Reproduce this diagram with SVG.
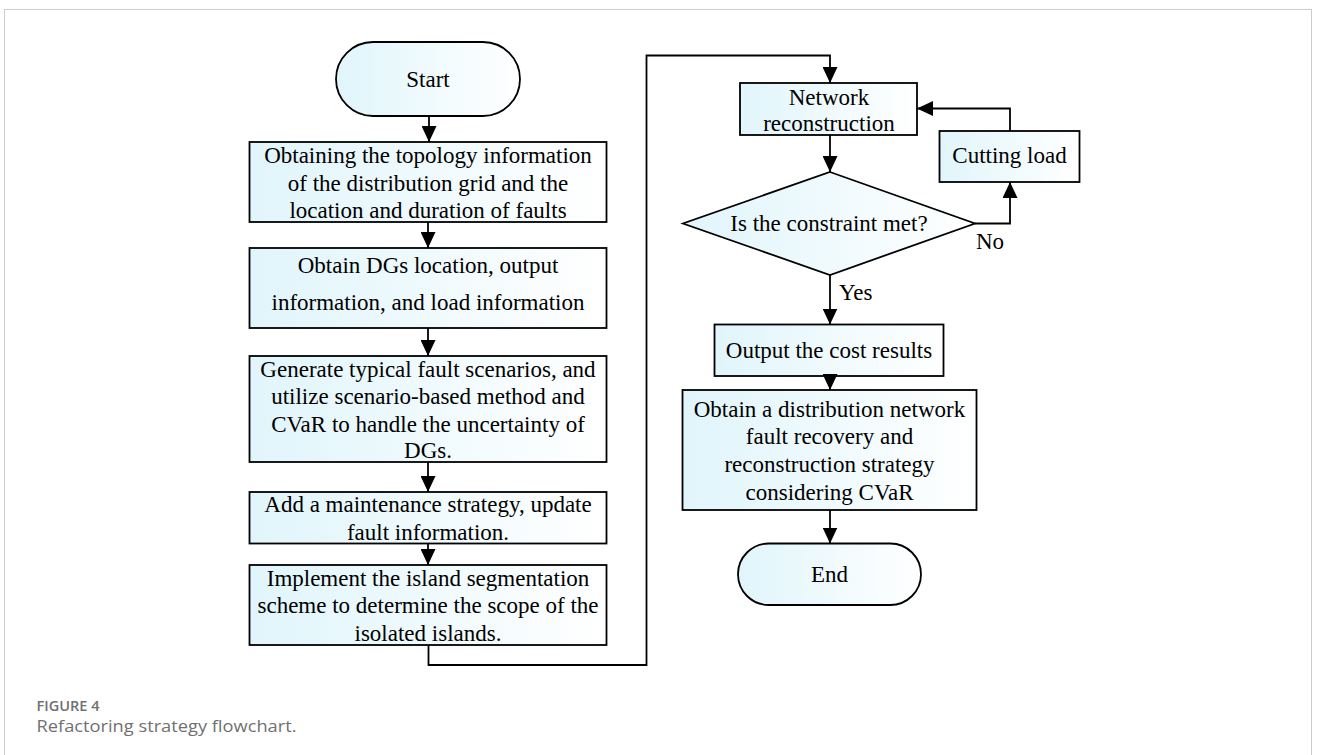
<svg xmlns="http://www.w3.org/2000/svg" width="1328" height="755" viewBox="0 0 1328 755">
<defs>
<linearGradient id="fillg" x1="0" y1="0" x2="1" y2="0">
<stop offset="0" stop-color="#e0f5fb"/>
<stop offset="1" stop-color="#ffffff"/>
</linearGradient>
<marker id="ah" viewBox="0 0 16 15" refX="16" refY="7.5" markerWidth="16" markerHeight="15" markerUnits="userSpaceOnUse" orient="auto">
<path d="M0,0 L16,7.5 L0,15 z" fill="#000"/>
</marker>
</defs>
<style>
.n{fill:url(#fillg);stroke:#000;stroke-width:1.8}
.t{font-family:"Liberation Serif","Times New Roman",serif;font-size:23px;fill:#000;text-anchor:middle}
.l{font-family:"Liberation Serif","Times New Roman",serif;font-size:23px;fill:#000}
.c{fill:none;stroke:#000;stroke-width:1.8}
.cap1{font-family:"Open Sans",Lato,sans-serif;font-size:14px;font-weight:600;fill:#707070}
.cap2{font-family:"Open Sans",Lato,sans-serif;font-size:17px;fill:#707070}
</style>
<rect x="4.5" y="9.5" width="1307" height="760" fill="#fff" stroke="#cccccc" stroke-width="1"/>

<g id="start">
<rect class="n" x="336" y="42" width="184" height="74" rx="37" ry="37"/>
<text class="t" x="428" y="87">Start</text>
</g>
<g id="box1">
<rect class="n" x="249.5" y="142" width="357" height="80"/>
<text class="t" x="428" y="163">Obtaining the topology information</text>
<text class="t" x="428" y="190.5">of the distribution grid and the</text>
<text class="t" x="428" y="218">location and duration of faults</text>
</g>
<g id="box2">
<rect class="n" x="249.5" y="248" width="357" height="80"/>
<text class="t" x="428" y="273">Obtain DGs location, output</text>
<text class="t" x="428" y="309.5">information, and load information</text>
</g>
<g id="box3">
<rect class="n" x="249.5" y="356" width="357" height="106"/>
<text class="t" x="428" y="376.5">Generate typical fault scenarios, and</text>
<text class="t" x="428" y="404">utilize scenario-based method and</text>
<text class="t" x="428" y="431.5">CVaR to handle the uncertainty of</text>
<text class="t" x="428" y="458">DGs.</text>
</g>
<g id="box4">
<rect class="n" x="249.5" y="492" width="357" height="51.5"/>
<text class="t" x="428" y="512">Add a maintenance strategy, update</text>
<text class="t" x="428" y="539.5">fault information.</text>
</g>
<g id="box5">
<rect class="n" x="249.5" y="565" width="357" height="80"/>
<text class="t" x="428" y="585.5">Implement the island segmentation</text>
<text class="t" x="428" y="613">scheme to determine the scope of the</text>
<text class="t" x="428" y="640.5">isolated islands.</text>
</g>
<g id="netrec">
<rect class="n" x="740" y="83" width="177" height="52"/>
<text class="t" x="829" y="104.5">Network</text>
<text class="t" x="829" y="131">reconstruction</text>
</g>
<g id="decision">
<polygon class="n" points="830,172 975,223.5 830,275 683,223.5"/>
<text class="t" x="829" y="231">Is the constraint met?</text>
</g>
<g id="cutload">
<rect class="n" x="939.5" y="131" width="140" height="51"/>
<text class="t" x="1009.5" y="163">Cutting load</text>
</g>
<g id="output">
<rect class="n" x="714.5" y="324.5" width="229" height="51.5"/>
<text class="t" x="829" y="358">Output the cost results</text>
</g>
<g id="obtain">
<rect class="n" x="682.5" y="390" width="294" height="120"/>
<text class="t" x="829.5" y="416.5">Obtain a distribution network</text>
<text class="t" x="829.5" y="444">fault recovery and</text>
<text class="t" x="829.5" y="472">reconstruction strategy</text>
<text class="t" x="829.5" y="499.5">considering CVaR</text>
</g>
<g id="end">
<rect class="n" x="738" y="543.5" width="183" height="61.5" rx="30.75" ry="30.75"/>
<text class="t" x="829.5" y="581.5">End</text>
</g>

<g id="connectors">
<path class="c" d="M429,116 V142" marker-end="url(#ah)"/>
<path class="c" d="M428,222 V248" marker-end="url(#ah)"/>
<path class="c" d="M428,328 V356" marker-end="url(#ah)"/>
<path class="c" d="M428,462 V492" marker-end="url(#ah)"/>
<path class="c" d="M428,543.5 V565" marker-end="url(#ah)"/>
<path class="c" d="M428.5,645 V665 H646.5 V55.5 H830 V83" marker-end="url(#ah)"/>
<path class="c" d="M830,135 V172" marker-end="url(#ah)"/>
<path class="c" d="M975,223.5 H1010 V182" marker-end="url(#ah)"/>
<path class="c" d="M1010,131 V108.5 H917" marker-end="url(#ah)"/>
<path class="c" d="M830,275 V324.5" marker-end="url(#ah)"/>
<path class="c" d="M830,376 V390" marker-end="url(#ah)"/>
<path class="c" d="M830,510 V543.5" marker-end="url(#ah)"/>
<text class="l" x="976" y="249">No</text>
<text class="l" x="839" y="299.5">Yes</text>
</g>

<text class="cap1" x="36.5" y="711" textLength="63" lengthAdjust="spacingAndGlyphs">FIGURE 4</text>
<text class="cap2" x="36.5" y="732" textLength="260" lengthAdjust="spacingAndGlyphs">Refactoring strategy flowchart.</text>
</svg>
